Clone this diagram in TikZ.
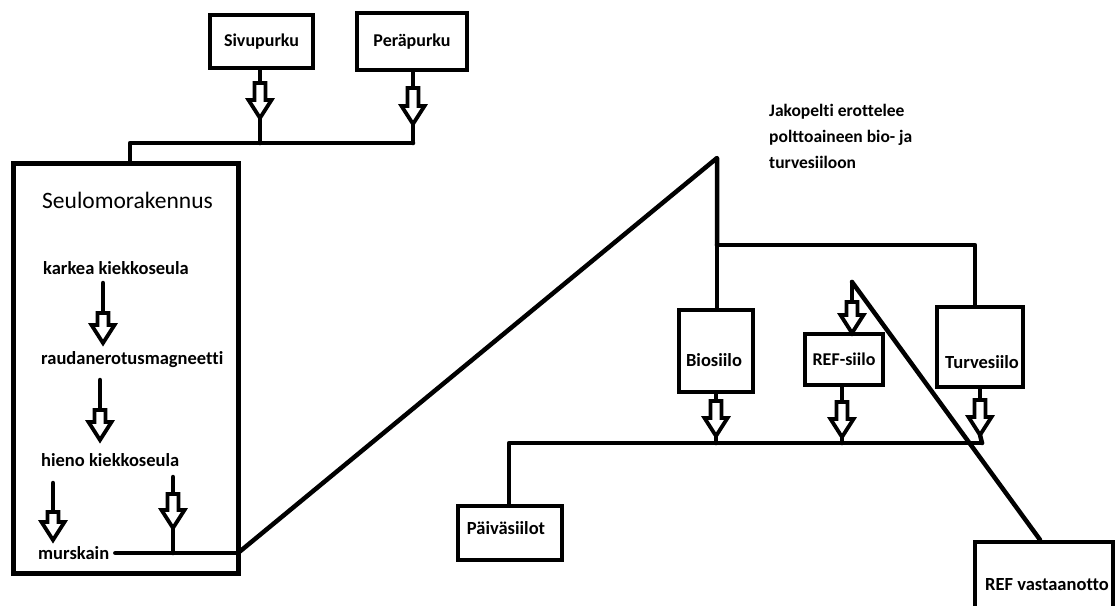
\documentclass[tikz,border=0pt]{standalone}
\usepackage{fontspec}
\setmainfont{Carlito}[Ligatures=NoCommon]
\usepackage{tikz}
\usetikzlibrary{positioning}

\tikzset{
  box/.style={draw,line width=4.5,fill=white,inner sep=0pt,font=\bfseries\fontsize{18}{21}\selectfont},
  lbl/.style={inner sep=0pt,font=\bfseries\fontsize{18.5}{22}\selectfont},
  pipe/.style={line width=4.5,line cap=round,line join=round},
  hollow/.style={line width=3.8,line join=miter,fill=white},
  pics/hollowdown/.style={code={
    \coordinate (-top) at (0,0);
    \coordinate (-tip) at (0,#1+18);
    \draw[hollow] (-5.5,0) -- (5.5,0) -- (5.5,#1) -- (11.5,#1) -- (0,#1+18) -- (-11.5,#1) -- (-5.5,#1) -- cycle;
  }}
}

\begin{document}
\begin{tikzpicture}[x=1pt,y=-1pt]
\clip (0,0) rectangle (1115,605);
\fill[white] (0,0) rectangle (1115,605);

% purku
\node[box,minimum width=103,minimum height=53] (siv) at (261.5,41.5) {Sivupurku};
\node[box,minimum width=110,minimum height=57] (per) at (412,41.5) {Peräpurku};
\coordinate (sivj) at (260,143);
\coordinate (perj) at (413,143);
\coordinate (seulj) at (130,143);
\draw[pipe] (siv.south -| sivj) -- (260,83);
\pic (sa) at (260,83) {hollowdown=17};
\draw[pipe] (sa-tip) -- (sivj);
\draw[pipe] (per.south -| perj) -- (413,88);
\pic (pa) at (413,88) {hollowdown=18};
\draw[pipe] (pa-tip) -- (perj);

% seulomorakennus
\node[draw,line width=5,minimum width=225,minimum height=410,inner sep=0pt] (seul) at (125.5,368) {};
\draw[pipe] (seul.north -| seulj) -- (seulj) -- (perj);
\node[inner sep=0pt,font=\fontsize{23.5}{27}\selectfont,anchor=west] (title) at (42,200) {Seulomorakennus};
\node[lbl,anchor=west] (karkea) at (43,268) {karkea kiekkoseula};
\node[lbl,anchor=west] (rauda) at (41,360) {raudanerotusmagneetti};
\node[lbl,anchor=west] (hieno) at (41,460) {hieno kiekkoseula};
\node[lbl,anchor=west] (murskain) at (38,553) {murskain};
\draw[pipe] (103,283) -- (103,313);
\pic (k1) at (103,313) {hollowdown=12};
\draw[pipe] (100,380) -- (100,410);
\pic (k2) at (100,410) {hollowdown=12};
\draw[pipe] (53,483) -- (53,512);
\pic (k3) at (53,512) {hollowdown=10};
\draw[pipe] (173,477) -- (173,494);
\pic (k4) at (173,494) {hollowdown=16};
\coordinate (mj) at (173,553);
\coordinate (mout) at (238,553);
\draw[pipe] (k4-tip) -- (mj);
\draw[pipe] (murskain.east) ++(6,0) -- (mout);

% jakopelti
\coordinate (apex) at (717,158);
\coordinate (bj) at (717,245);
\coordinate (tj) at (975,245);
\draw[pipe] (mout) -- (apex) -- (bj);
\node[lbl,anchor=north west,align=left,font=\bfseries\fontsize{17.5}{26}\selectfont] (jako) at (769,104) {Jakopelti erottelee\\polttoaineen bio- ja\\turvesiiloon};

% siilot
\node[box,minimum width=74,minimum height=82] (bio) at (716,351) {};
\node[lbl] (biot) at (714,360) {Biosiilo};
\node[box,minimum width=78,minimum height=51] (refs) at (844,359.5) {REF-siilo};
\node[box,minimum width=86,minimum height=80] (turve) at (980,347) {};
\node[lbl] (turvet) at (982,362) {Turvesiilo};
\draw[pipe] (bj) -- (bio.north -| bj);
\draw[pipe] (bj) -- (tj) -- (turve.north -| tj);

% REF
\node[draw,line width=4.5,minimum width=138,minimum height=80,inner sep=0pt] (refv) at (1044,582) {};
\node[lbl] (refvt) at (1047,585) {REF vastaanotto};
\coordinate (refapex) at (852,282);
\draw[pipe] (refapex) -- (852,302);
\pic (ra) at (852,302) {hollowdown=13};
\draw[pipe] (refapex) -- (refv.north -| 1040,0);

% kokoojalinja
\coordinate (lj) at (509,443);
\coordinate (rj) at (982,443);
\draw[pipe] (bio.south -| 716,0) -- (716,401);
\pic (ba) at (716,401) {hollowdown=17};
\draw[pipe] (ba-tip) -- (716,443);
\draw[pipe] (refs.south -| 842,0) -- (842,402);
\pic (rb) at (842,402) {hollowdown=17};
\draw[pipe] (rb-tip) -- (842,443);
\draw[pipe] (turve.south -| 980,0) -- (980,400);
\pic (ta) at (980,400) {hollowdown=17};
\draw[pipe] (ta-tip) -- (rj);
\node[box,minimum width=104,minimum height=54] (paiva) at (510,533) {};
\node[lbl] (paivat) at (506,528) {Päiväsiilot};
\draw[pipe] (paiva.north -| lj) -- (lj) -- (rj);
\end{tikzpicture}
\end{document}
